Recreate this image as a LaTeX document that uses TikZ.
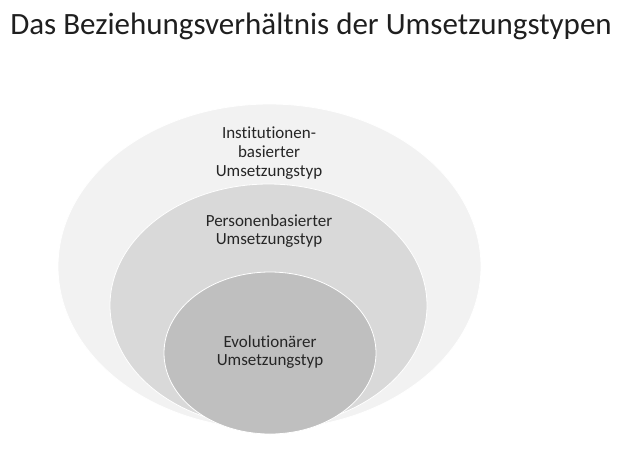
\documentclass[tikz,border=0pt]{standalone}
\usepackage{fontspec}
\setmainfont{Carlito}[RawFeature=-liga]
\usetikzlibrary{shapes.geometric}
\begin{document}
\begin{tikzpicture}[x=1pt,y=-1pt,
    ring_node/.style={ellipse,draw=white,line width=0.8pt,inner sep=0pt},
    label_node/.style={align=center,inner sep=0pt,text=black!85,font=\fontsize{17}{18.8}\selectfont}]
    \useasboundingbox (0,0) rectangle (623,453);
    \node[anchor=base,inner sep=0pt,text=black!88,font=\fontsize{31}{32}\selectfont] (title) at (311,34) {Das Beziehungsverhältnis der Umsetzungstypen};
    \node[ring_node,fill=black!5,minimum width=423pt,minimum height=325pt] (outer) at (269.5,266.5) {};
    \node[ring_node,fill=black!15,minimum width=317pt,minimum height=243pt] (middle) at (268.5,305.5) {};
    \node[ring_node,fill=black!25,minimum width=212pt,minimum height=162pt] (inner) at (270,353) {};
    \node[label_node] (inst) at (269,153) {Institutionen-\\basierter\\Umsetzungstyp};
    \node[label_node] (pers) at (269,231) {Personenbasierter\\Umsetzungstyp};
    \node[label_node] (evol) at (270,352) {Evolutionärer\\Umsetzungstyp};
\end{tikzpicture}
\end{document}
